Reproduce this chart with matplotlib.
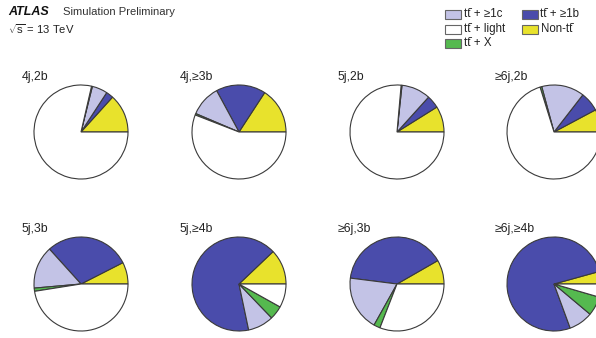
import matplotlib
matplotlib.use("Agg")
import matplotlib.pyplot as plt
from matplotlib.patches import Rectangle

plt.rcParams['font.family'] = ['Liberation Sans', 'DejaVu Sans']
plt.rcParams['mathtext.fontset'] = 'custom'
plt.rcParams['mathtext.rm'] = 'Liberation Sans'
plt.rcParams['mathtext.it'] = 'Liberation Sans'

# Region labels (top row, then bottom row)
regions = ["4j,2b", "4j,≥3b", "5j,2b", "≥6j,2b",
           "5j,3b", "5j,≥4b", "≥6j,3b", "≥6j,≥4b"]

# Sample composition per region, in percent
non_tt   = [13.3, 15.8,  8.9,  7.8,  7.5, 12.1,  8.3,  4.3]
tt_1b    = [ 2.5, 17.1,  4.4,  6.7, 29.2, 66.2, 39.7, 76.3]
tt_1c    = [ 5.3, 10.7, 10.0, 14.7, 14.7,  8.9, 18.9,  8.3]
tt_x     = [ 0.3,  0.5,  0.3,  0.6,  1.1,  4.7,  2.2,  6.6]
tt_light = [78.6, 55.9, 76.4, 70.2, 47.5,  8.1, 30.9,  4.5]

# Legend entries
TT = "tt\u0304"
legend_labels = [TT + " + ≥1c", TT + " + ≥1b",
                 TT + " + light", "Non-" + TT,
                 TT + " + X"]

col_yellow = "#e8e22c"
col_blue = "#4a4cab"
col_lav = "#c3c3e6"
col_green = "#55b94f"
col_white = "#ffffff"

W, H = 596, 338
fig = plt.figure(figsize=(W / 100, H / 100), dpi=100)
ax = fig.add_axes([0, 0, 1, 1])

centers_x = [81, 239, 397, 554]
centers_y = [132, 284]
radius = 47

for i, name in enumerate(regions):
    cx = centers_x[i % 4]
    cy = H - centers_y[i // 4]
    vals = [non_tt[i], tt_1b[i], tt_1c[i], tt_x[i], tt_light[i]]
    ax.pie(vals, colors=[col_yellow, col_blue, col_lav, col_green, col_white],
           startangle=0, counterclock=True, center=(cx, cy), radius=radius,
           wedgeprops=dict(edgecolor="#3a3a3a", linewidth=0.8),
           frame=True)
    ax.text(cx - 59, cy + 55, name, fontsize=8.8, ha="left", va="center",
            color="#222222")

ax.set_xlim(0, W)
ax.set_ylim(0, H)
ax.set_aspect("equal")
ax.axis("off")

# Header
ax.text(8, H - 12, "ATLAS", fontsize=9, fontweight="bold", style="italic",
        ha="left", va="center", color="#111111")
ax.text(63, H - 12, "Simulation Preliminary", fontsize=8.1, ha="left",
        va="center", color="#333333")
ax.text(8, H - 29, r"$\sqrt{\mathrm{s}}$ = 13 TeV", fontsize=8.1, ha="left",
        va="center", color="#222222")

# Legend
leg_cols = [445, 522]
leg_rows = [14, 29, 43]
leg_colors = [col_lav, col_blue, col_white, col_yellow, col_green]
for k, (lab, c) in enumerate(zip(legend_labels, leg_colors)):
    x = leg_cols[k % 2]
    y = H - leg_rows[k // 2]
    ax.add_patch(Rectangle((x, y - 4.5), 16, 9, facecolor=c,
                           edgecolor="#666666", linewidth=0.8))
    ax.text(x + 18.5, y, lab, fontsize=8.3, ha="left", va="center",
            color="#222222")

fig.savefig("out.png", dpi=100)
